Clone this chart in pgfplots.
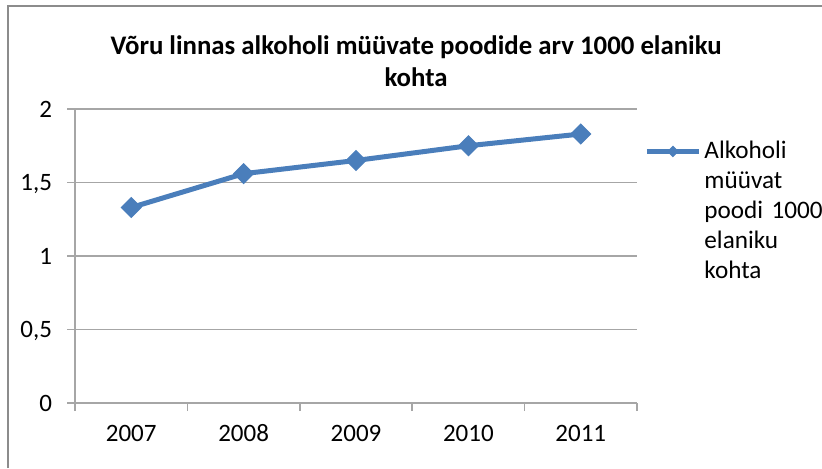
\documentclass[border=0pt]{standalone}
\usepackage{pgfplots}
\pgfplotsset{compat=1.18}
\usepackage{fontspec}
\setmainfont{Carlito}
\definecolor{serblue}{HTML}{4A7EBB}
\definecolor{gridgray}{HTML}{A6A6A6}
\definecolor{framegray}{HTML}{8C8C8C}
\begin{document}
\begin{tikzpicture}[x=1pt,y=1pt]
\useasboundingbox (0,0) rectangle (411,234);
\draw[framegray,line width=1pt] (3.75,0) -- (3.75,231) -- (411,231);
\begin{axis}[
  at={(37.5pt,32.5pt)}, anchor=south west,
  width=281pt, height=147pt, scale only axis,
  xmin=-0.5, xmax=4.5, ymin=0, ymax=2,
  xtick={0,1,2,3,4},
  xticklabels={2007,2008,2009,2010,2011},
  minor xtick={-0.5,0.5,1.5,2.5,3.5,4.5},
  ytick={0,0.5,1,1.5,2},
  /pgf/number format/use comma,
  /pgf/number format/assume math mode=true,
  yticklabel={\pgfmathprintnumber{\tick}},
  axis x line*=bottom, axis y line*=left,
  axis line style={gridgray,line width=0.8pt},
  tick align=outside,
  major tick length=4pt, minor tick length=4pt,
  major x tick style={draw=none},
  minor x tick style={gridgray,line width=0.8pt},
  major y tick style={gridgray,line width=0.8pt},
  ymajorgrids, major grid style={gridgray,line width=0.8pt},
  tick label style={font=\fontsize{12.5}{14}\selectfont, text=black, text height=8pt, text depth=0pt},
  yticklabel style={xshift=-4pt},
  xticklabel style={yshift=-3.8pt},
  title={\textbf{Võru linnas alkoholi müüvate poodide arv 1000 elaniku}\\\textbf{kohta}},
  title style={font=\fontsize{13.4}{16}\selectfont, align=center, anchor=north, inner sep=0pt, at={(axis description cs:0.6068,1.21)}},
  legend style={draw=none, fill=none, at={(axis description cs:1.0125,0.902)}, anchor=north west,
    font=\fontsize{12.6}{15}\selectfont, inner sep=0pt, row sep=0pt, nodes={inner sep=1.5pt}},
  legend cell align=left,
  legend image code/.code={\draw[mark repeat=2,mark phase=2,#1,mark size=1.8pt] plot coordinates {(0pt,0pt) (13pt,0pt) (26pt,0pt)};},
  clip=false,
]
\addplot[serblue, line width=2.5pt, mark=square*, mark size=3.5pt, mark options={rotate=45, solid, fill=serblue, draw=serblue, line width=0.5pt}]
  coordinates {(0,1.33) (1,1.56) (2,1.65) (3,1.75) (4,1.83)};
\addlegendentry[text width=80pt, align=left]{Alkoholi\\müüvat\\poodi 1000\\elaniku\\kohta}
\end{axis}
\end{tikzpicture}
\end{document}
